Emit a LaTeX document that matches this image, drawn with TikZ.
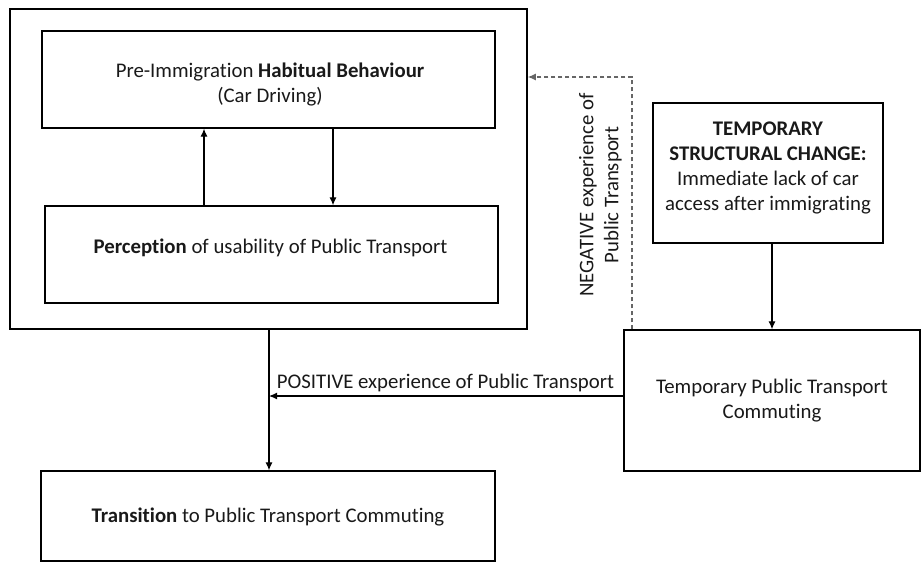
\documentclass[tikz,border=0pt]{standalone}
\usepackage{fontspec}
\setmainfont{Carlito}[Ligatures=NoCommon]
\usetikzlibrary{arrows.meta}
\begin{document}
\begin{tikzpicture}[x=1pt,y=-1pt,
  font=\fontsize{20.8}{25}\selectfont,
  box/.style={draw, line width=1.3pt, inner sep=0pt},
  txt/.style={inner sep=0pt, align=center, text=black!90},
  conn/.style={line width=1.2pt, -{Latex[length=8pt,width=7pt]}},
  dashconn/.style={conn, draw=black!60, line width=1.3pt, dash pattern=on 4pt off 3pt}]
\useasboundingbox (0,0) rectangle (921,563);

% feedback loop around the habit
\node[box, line width=1.5pt, minimum width=517, minimum height=320] (outer) at (268.5,169) {};
\node[box, minimum width=453, minimum height=97] (habit) at (268.5,79.5) {};
\node[txt] (habitText) at (270,84.5) {Pre-Immigration \textbf{Habitual Behaviour}\\(Car Driving)};
\node[box, minimum width=453, minimum height=97] (perc) at (271.5,254.5) {};
\node[txt] (percText) at (270.5,248) {\textbf{Perception} of usability of Public Transport};

% structural change and temporary commuting
\node[box, minimum width=230, minimum height=140] (change) at (768,173) {};
\node[txt] (changeText) at (768,168) {\textbf{TEMPORARY}\\\textbf{STRUCTURAL CHANGE:}\\Immediate lack of car\\access after immigrating};
\node[box, minimum width=296, minimum height=141] (tempPT) at (772,400.5) {};
\node[txt] (tempPTText) at (772,400.5) {Temporary Public Transport\\Commuting};

% outcome
\node[box, minimum width=454, minimum height=90] (trans) at (268,516) {};
\node[txt] (transText) at (268,517) {\textbf{Transition} to Public Transport Commuting};

% loop arrows
\draw[conn] (perc.north -| 204,0) -- (habit.south -| 204,0);
\draw[conn] (habit.south -| 333,0) -- (perc.north -| 333,0);

% main flow
\draw[conn] (outer.south -| trans.north) ++(1,0) coordinate (mainTop) -- (trans.north -| mainTop);
\draw[conn] (change.south -| 772,0) -- (tempPT.north -| 772,0);
\coordinate (join) at (269,396);
\draw[conn] (tempPT.west |- join) -- (join);
\node[txt, anchor=center] (posLabel) at (445.5,383) {POSITIVE experience of Public Transport};

% negative feedback
\coordinate (negCorner) at (632,77);
\draw[dashconn] (tempPT.north -| negCorner) -- (negCorner) -- (outer.east |- negCorner);
\node[txt, rotate=90] (negLabel) at (600.5,195) {NEGATIVE experience of\\Public Transport};
\end{tikzpicture}
\end{document}
